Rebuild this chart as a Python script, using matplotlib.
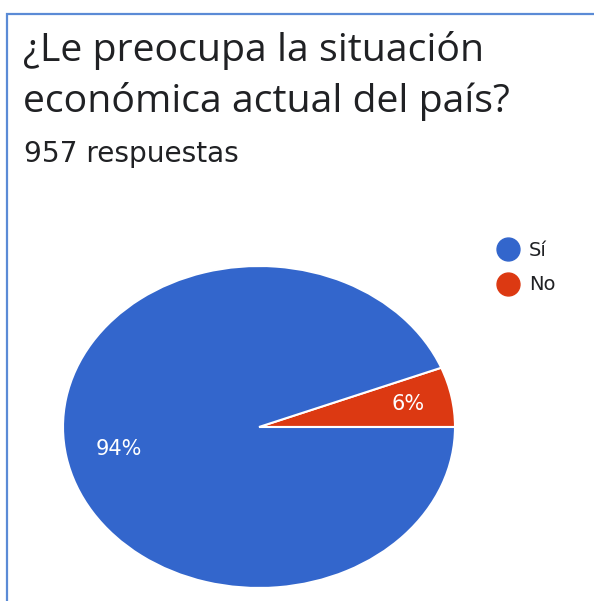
import matplotlib
matplotlib.use("Agg")
import matplotlib.pyplot as plt
from matplotlib.lines import Line2D
from matplotlib.patches import Rectangle

title_lines = ["¿Le preocupa la situación", "económica actual del país?"]
subtitle = "957 respuestas"
categories = ["Sí", "No"]
percents = [94, 6]
colors = ["#3366CC", "#DC3912"]

W, H = 594, 601
fig = plt.figure(figsize=(W / 100, H / 100), dpi=100)
fig.patch.set_facecolor("white")

# blue frame (left and top edges visible)
fig.add_artist(Rectangle((7 / W, -0.1), 1.2, 1 - 13.5 / H + 0.1, transform=fig.transFigure,
                         fill=False, edgecolor="#5B8BD6", linewidth=1.6))

for txt, base in zip(title_lines, [61, 112]):
    fig.text(23 / W, 1 - base / H, txt, fontsize=28.3, family="Open Sans",
             color="#202124", ha="left", va="baseline")
fig.text(24 / W, 1 - 162 / H, subtitle, fontsize=20.2, family="DejaVu Sans",
         color="#202124", ha="left", va="baseline")

# pie axes (ellipse as in screenshot)
left, right, top, bottom = 63, 455, 266, 588
ax = fig.add_axes([left / W, 1 - bottom / H, (right - left) / W, (bottom - top) / H])
vals = percents[::-1]
cols = colors[::-1]
wedges, texts, autotexts = ax.pie(vals, colors=cols, startangle=0, counterclock=True,
                                  autopct=lambda p: f"{p:.0f}%", pctdistance=0.75,
                                  wedgeprops=dict(edgecolor="white", linewidth=1.5),
                                  textprops=dict(color="white", fontsize=15, family="DejaVu Sans"))
for t, k in zip(autotexts, [1.03, 0.97]):
    x, y = t.get_position()
    t.set_position((x * k, y * k))
ax.set_aspect("auto")
ax.set_xlim(-1, 1)
ax.set_ylim(-1, 1)
ax.axis("off")

handles = [Line2D([0], [0], marker="o", linestyle="none", markersize=16.5,
                  markerfacecolor=c, markeredgecolor=c) for c in colors]
fig.legend(handles, categories, loc="upper left", bbox_to_anchor=(486 / W, 1 - 233 / H),
           frameon=False, prop=dict(family="DejaVu Sans", size=14), handletextpad=0.3,
           labelspacing=0.8, borderaxespad=0, handlelength=1.5, labelcolor="#202124")

fig.savefig("out.png", dpi=100)
